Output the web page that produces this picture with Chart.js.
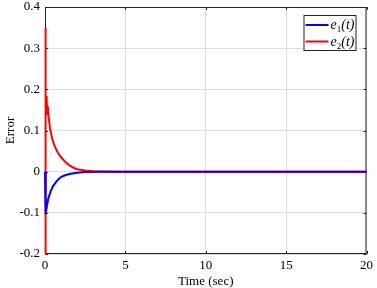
<!DOCTYPE html>
<html>
<head>
<meta charset="utf-8">
<script src="https://cdn.jsdelivr.net/npm/chart.js@4/dist/chart.umd.min.js"></script>
<style>
  html, body { margin: 0; padding: 0; background: #fff; }
</style>
</head>
<body>
<canvas id="errorChart" width="377" height="288"></canvas>
<script>
// values
const e1Time   = [0, 0.04, 0.1, 0.2, 0.35, 0.5, 0.7, 0.9, 1.1, 1.3, 1.6, 1.9, 2.3, 2.7, 3.2, 4, 6, 10, 15, 20];
const e1Values = [0, -0.103, -0.088, -0.066, -0.048, -0.035, -0.024, -0.016, -0.011, -0.008, -0.005, -0.003, -0.0015, -0.0008, -0.0003, 0, 0, 0, 0, 0];

const e2Time   = [0, 0.01, 0.06, 0.1, 0.13, 0.17, 0.2, 0.31, 0.45, 0.62, 0.8, 1.0, 1.25, 1.5, 1.75, 2.0, 2.5, 3.0, 3.5, 4.5, 6, 10, 15, 20];
const e2Values = [-0.2, 0.35, 0.14, 0.184, 0.14, 0.16, 0.142, 0.105, 0.08, 0.06, 0.046, 0.035, 0.024, 0.016, 0.01, 0.006, 0.003, 0.0013, 0.0006, 0, 0, 0, 0, 0];

const xTicks = [0, 5, 10, 15, 20];
const yTicks = [-0.2, -0.1, 0, 0.1, 0.2, 0.3, 0.4];
const seriesNames = [['e', '1', '(t)'], ['e', '2', '(t)']];
const seriesColors = ['#0000ff', '#ff0000'];

const serif = "'Liberation Serif', 'Times New Roman', serif";

// box round the plot with small inward ticks, as in the original figure
const framePlugin = {
    id: 'frame',
    beforeDatasetsDraw(chart) {
        const { ctx, chartArea: a, scales } = chart;
        ctx.save();
        ctx.strokeStyle = '#222';
        ctx.lineWidth = 1;
        ctx.strokeRect(a.left + 0.5, a.top + 0.5, a.right - a.left - 1, a.bottom - a.top - 1);
        ctx.beginPath();
        xTicks.forEach(v => {
            const px = Math.round(scales.x.getPixelForValue(v)) + 0.5;
            ctx.moveTo(px, a.bottom); ctx.lineTo(px, a.bottom - 3);
            ctx.moveTo(px, a.top); ctx.lineTo(px, a.top + 3);
        });
        yTicks.forEach(v => {
            const py = Math.round(scales.y.getPixelForValue(v)) + 0.5;
            ctx.moveTo(a.left, py); ctx.lineTo(a.left + 3, py);
            ctx.moveTo(a.right, py); ctx.lineTo(a.right - 3, py);
        });
        ctx.stroke();
        ctx.restore();
    }
};

// legend in the top right corner, with subscripts
const legendPlugin = {
    id: 'boxLegend',
    afterDraw(chart) {
        const { ctx, chartArea: a } = chart;
        const boxW = 53, boxH = 36;
        const bx = a.right - 10 - boxW, by = a.top + 8;
        ctx.save();
        ctx.fillStyle = '#fff';
        ctx.fillRect(bx, by, boxW, boxH);
        ctx.strokeStyle = '#222';
        ctx.lineWidth = 1;
        ctx.strokeRect(bx + 0.5, by + 0.5, boxW - 1, boxH - 1);
        seriesNames.forEach((parts, i) => {
            const y = by + 10 + i * 16.5;
            ctx.strokeStyle = seriesColors[i];
            ctx.lineWidth = 2;
            ctx.beginPath();
            ctx.moveTo(bx + 2, y);
            ctx.lineTo(bx + 25, y);
            ctx.stroke();
            ctx.fillStyle = '#000';
            ctx.textBaseline = 'alphabetic';
            let x = bx + 27;
            ctx.font = 'italic 14px ' + serif;
            ctx.fillText(parts[0], x, y + 4);
            x += ctx.measureText(parts[0]).width;
            ctx.font = '9px ' + serif;
            ctx.fillText(parts[1], x, y + 7);
            x += ctx.measureText(parts[1]).width;
            ctx.font = 'italic 14px ' + serif;
            ctx.fillText(parts[2], x, y + 4);
        });
        ctx.restore();
    }
};

const toPoints = (xs, ys) => xs.map((x, i) => ({ x: x, y: ys[i] }));

new Chart(document.getElementById('errorChart'), {
    type: 'line',
    data: {
        datasets: [
            {
                label: 'e1(t)',
                data: toPoints(e1Time, e1Values),
                borderColor: seriesColors[0],
                borderWidth: 2,
                pointRadius: 0,
                tension: 0,
                clip: 3
            },
            {
                label: 'e2(t)',
                data: toPoints(e2Time, e2Values),
                borderColor: seriesColors[1],
                borderWidth: 2,
                pointRadius: 0,
                tension: 0,
                clip: 3
            }
        ]
    },
    options: {
        responsive: false,
        animation: false,
        layout: { padding: { top: 7, right: 7, left: 0, bottom: 0 } },
        plugins: {
            legend: { display: false },
            tooltip: { enabled: false }
        },
        scales: {
            x: {
                type: 'linear',
                min: 0,
                max: 20,
                afterBuildTicks: s => { s.ticks = xTicks.map(v => ({ value: v })); },
                afterFit: s => { s.height = 34; },
                border: { display: false },
                grid: { color: '#dedede', drawTicks: false },
                ticks: {
                    padding: 4,
                    color: '#000',
                    font: { family: serif, size: 13 },
                    callback: v => String(v)
                },
                title: {
                    display: true,
                    text: 'Time (sec)',
                    color: '#000',
                    font: { family: serif, size: 13, lineHeight: 1 },
                    padding: { top: 0, bottom: 0 }
                }
            },
            y: {
                type: 'linear',
                min: -0.2,
                max: 0.4,
                afterBuildTicks: s => { s.ticks = yTicks.map(v => ({ value: v })); },
                afterFit: s => { s.width = 45; s.paddingTop = 0; s.paddingBottom = 0; },
                border: { display: false },
                grid: { color: '#dedede', drawTicks: false },
                ticks: {
                    padding: 5,
                    color: '#000',
                    font: { family: serif, size: 13 },
                    callback: v => String(+v.toFixed(1))
                },
                title: {
                    display: true,
                    text: 'Error',
                    color: '#000',
                    font: { family: serif, size: 13 },
                    padding: { top: 3, bottom: 0 }
                }
            }
        }
    },
    plugins: [framePlugin, legendPlugin]
});
</script>
</body>
</html>
